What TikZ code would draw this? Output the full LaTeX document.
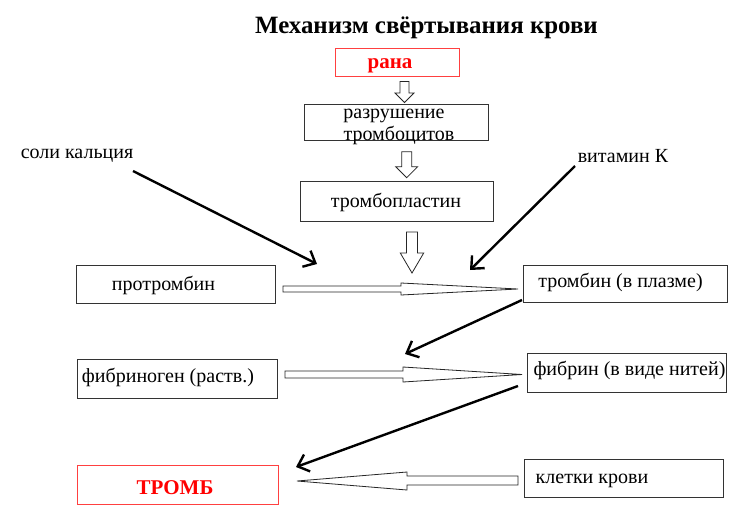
\documentclass[tikz,border=0pt]{standalone}
\usepackage{fontspec}
\setmainfont{Liberation Serif}
\usetikzlibrary{arrows.meta}
\newcommand\blockdown[6]{% cx, top, headbase, tip, shaft half, head half
  \draw[hollow] (#1-#5,#2) -- (#1+#5,#2) -- (#1+#5,#3) -- (#1+#6,#3) -- (#1,#4) -- (#1-#6,#3) -- (#1-#5,#3) -- cycle;}
\begin{document}
\begin{tikzpicture}[x=1pt,y=-1pt,
  box/.style={draw=black!80, line width=0.9pt, inner sep=0pt},
  redbox/.style={draw=red!75, line width=0.9pt, inner sep=0pt},
  txt/.style={font=\fontsize{20}{22}\selectfont, inner sep=0pt, anchor=base},
  bold/.style={font=\fontsize{21}{23}\selectfont\bfseries, inner sep=0pt, anchor=base},
  blk/.style={line width=2.4pt, -{Straight Barb[length=10pt,width=18pt,line width=2.4pt]}},
  hollow/.style={draw=black!85, line width=0.8pt, fill=white}]
\path[use as bounding box, fill=white] (0,0) rectangle (750,523);

% title
\node[font=\fontsize{24.9}{27}\selectfont\bfseries, inner sep=0pt, anchor=base] (title) at (426.5,33) {Механизм свёртывания крови};

% boxes
\node[redbox, minimum width=124pt, minimum height=28pt] (rana) at (397,62) {};
\node[box, minimum width=184pt, minimum height=36pt] (razr) at (396,122) {};
\node[box, minimum width=193pt, minimum height=40pt] (tpl) at (396.5,201) {};
\node[box, minimum width=199pt, minimum height=38pt] (prot) at (175.5,284) {};
\node[box, minimum width=204pt, minimum height=37pt] (tromb) at (625,283.5) {};
\node[box, minimum width=200pt, minimum height=39pt] (fibg) at (177,378.5) {};
\node[box, minimum width=199pt, minimum height=39pt] (fibr) at (626.5,372.5) {};
\node[redbox, minimum width=201pt, minimum height=39pt] (thr) at (177.5,484.5) {};
\node[box, minimum width=199pt, minimum height=38pt] (klet) at (623.5,478) {};

% texts
\node[bold, text=red] (tRana) at (390,68) {рана};
\node[txt] (tRazr1) at (394,118) {разрушение};
\node[txt] (tRazr2) at (399,140) {тромбоцитов};
\node[txt] (tTpl) at (396,207) {тромбопластин};
\node[txt] (tProt) at (163.5,290) {протромбин};
\node[txt] (tTromb) at (620.5,287) {тромбин (в плазме)};
\node[txt] (tFibg) at (168,382) {фибриноген (раств.)};
\node[txt] (tFibr) at (629.5,375) {фибрин (в виде нитей)};
\node[bold, text=red] (tThr) at (175,494) {ТРОМБ};
\node[txt] (tKlet) at (592,483) {клетки крови};
\node[txt] (ca) at (77,158) {соли кальция};
\node[txt] (vitk) at (623,162) {витамин К};

% hollow down arrows
\blockdown{404.5}{81.5}{93}{102.5}{4.5}{9.5}
\blockdown{406.7}{151.7}{166.7}{177.7}{5}{11}
\blockdown{412}{232}{253}{273}{5.5}{11.7}

% tapered arrows
\draw[hollow] (283,286) -- (401,286) -- (401,283) -- (518,289) -- (401,295) -- (401,292) -- (283,292) -- cycle;
\draw[hollow] (285,371) -- (403,371) -- (403,367) -- (522,374.5) -- (403,382) -- (403,378) -- (285,378) -- cycle;
\draw[hollow] (518,476) -- (407,476) -- (407,472) -- (297,481) -- (407,490) -- (407,485) -- (518,485) -- cycle;

% black arrows
\coordinate (caS) at (133,171);
\coordinate (caE) at (317,264);
\coordinate (vkS) at (575,166);
\coordinate (vkE) at (470,270);
\coordinate (trS) at (522,300);
\coordinate (trE) at (405,354);
\coordinate (fbS) at (518,386);
\coordinate (fbE) at (296,467);
\draw[blk] (caS) -- (caE);
\draw[blk] (vkS) -- (vkE);
\draw[blk] (trS) -- (trE);
\draw[blk] (fbS) -- (fbE);
\end{tikzpicture}
\end{document}
